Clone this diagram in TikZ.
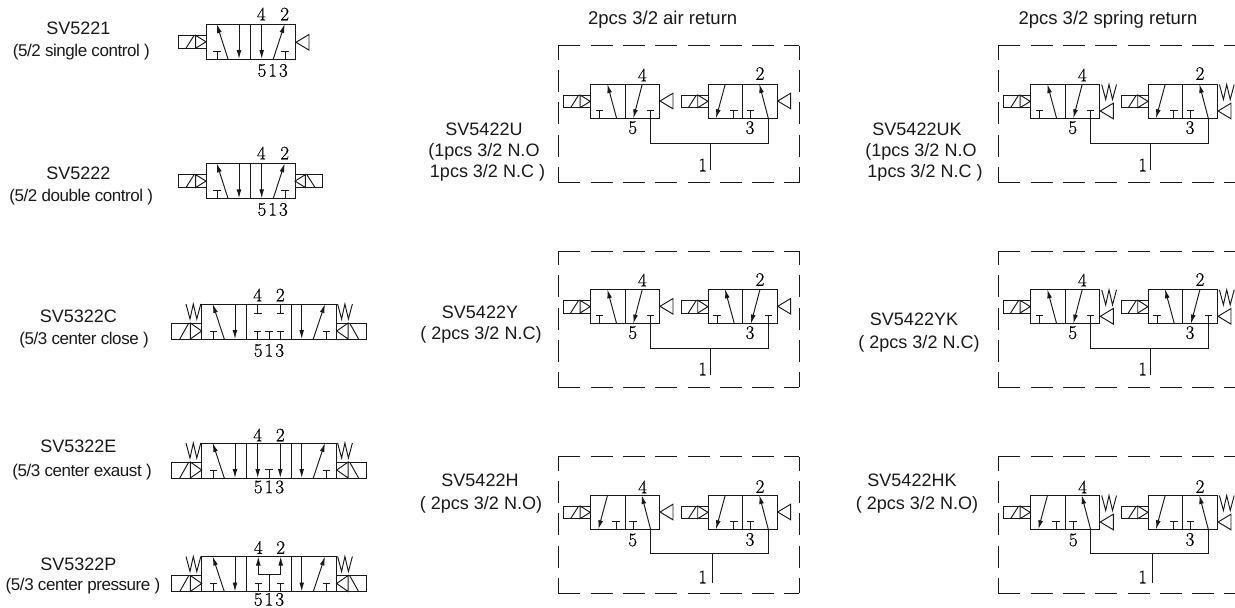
\documentclass[tikz,border=0pt]{standalone}
\usepackage{fontspec}
\usetikzlibrary{arrows.meta}
\setmainfont{Liberation Sans}
\newfontfamily\tightsans[LetterSpace=-2.6]{Liberation Sans}
\newfontfamily\lmdigits[FakeBold=0.7]{Latin Modern Roman}
\newcounter{lab}
\tikzset{
  ln/.style={line width=0.95pt,draw=black!90},
  arw/.style={ln,-{Latex[length=9pt,width=4.8pt]}},
  dashbox/.style={line width=0.9pt,draw=black!90,dash pattern=on 22pt off 10.3pt},
  num/.style={font=\fontsize{19}{19}\lmdigits,inner sep=0pt,text=black},
  title/.style={font=\fontsize{18}{20}\selectfont,inner sep=0pt,anchor=base,text=black!90},
  head/.style={font=\fontsize{18.5}{20}\selectfont,inner sep=0pt,anchor=base,text=black!90},
  sub/.style={font=\fontsize{17}{20}\tightsans,inner sep=0pt,anchor=base,text=black!90},
}
% digit label
\newcommand{\numlab}[3]{\stepcounter{lab}\node[num] (n\thelab) at (#1,#2) {#3};}
% text labels
\newcommand{\tlab}[3]{\stepcounter{lab}\node[title] (t\thelab) at (#1,#2) {#3};}
\newcommand{\hlab}[3]{\stepcounter{lab}\node[head] (h\thelab) at (#1,#2) {#3};}
\newcommand{\slab}[3]{\stepcounter{lab}\node[sub] (s\thelab) at (#1,#2) {#3};}
% dashed frame: x1,y1,x2,y2
\newcommand{\dbox}[4]{%
  \draw[dashbox] (#1,#2) -- (#3,#2);
  \draw[dashbox,dash phase=8pt] (#1,#2) -- (#1,#4);
  \draw[dashbox,dash phase=8pt] (#3,#2) -- (#3,#4);
  \draw[dashbox] (#1,#4) -- (#3,#4);}
% tee: x, bar y, end y
\newcommand{\tee}[3]{\draw[ln] (#1-3.7,#2) -- (#1+3.7,#2) (#1,#2) -- (#1,#3);}
% solenoid drawn to the left of (0,0): y top, h, w
\newcommand{\solbox}[3]{%
  \draw[ln] (-#3,#1) rectangle (0,#1+#2);
  \draw[ln] (-.38*#3,#1) -- (0,#1+.5*#2) -- (-.38*#3,#1+#2) -- cycle;
  \draw[ln] (-.73*#3,#1+#2) -- (-.43*#3,#1);}
% spring zigzag: x left, y top
\newcommand{\springW}[2]{\draw[ln] (#1,#2) -- (#1+4,#2+15) -- (#1+7.3,#2) -- (#1+10.8,#2+15) -- (#1+14.8,#2);}
% triangle: apex x, apex y
\newcommand{\tri}[2]{\draw[ln] (#1,#2) -- (#1+13,#2-7.8) -- (#1+13,#2+7.8) -- cycle;}
% 5/2 valve at top y
\newcommand{\fivetwo}[1]{%
  \begin{scope}[shift={(0,#1)}]
    \draw[ln] (206,0) rectangle (295,35);
    \draw[ln] (250.7,0) -- (250.7,35);
    \draw[arw] (228,35) -- (216.7,0);
    \draw[arw] (273.3,35) -- (284.7,0);
    \draw[arw] (239,0) -- (239,35);
    \draw[arw] (261.7,0) -- (261.7,35);
    \tee{217}{27.5}{35}
    \tee{285}{27.5}{35}
    \begin{scope}[shift={(206,0)}]\solbox{11.3}{13}{27.5}\end{scope}
  \end{scope}}
% 5/3 valve frame at top y
\newcommand{\fivethree}[1]{%
  \draw[ln] (201.7,0) rectangle (336.7,35);
  \draw[ln] (246.7,0) -- (246.7,35) (291.7,0) -- (291.7,35);
  \draw[arw] (224.3,35) -- (212.7,0);
  \draw[arw] (313.3,35) -- (325,0);
  \draw[arw] (235,0) -- (235,35);
  \draw[arw] (301.7,0) -- (301.7,35);
  \tee{213.7}{27}{35}
  \tee{326.3}{27}{35}
  \springW{186}{0}
  \springW{337.6}{0}
  \begin{scope}[shift={(201.7,0)}]\solbox{19}{16}{30}\end{scope}
  \begin{scope}[shift={(336.7,0)},xscale=-1]\solbox{19}{16}{30}\end{scope}}
% two-position half cells, local to a valve body 69 x 34.3
\newcommand{\cellA}{\draw[arw] (26.3,34.3) -- (17,0); \tee{9}{26}{34.3}}
\newcommand{\cellB}{\draw[arw] (17.3,0) -- (8,34.3); \tee{25.8}{26}{34.3}}
\newcommand{\cellC}{\draw[arw] (52,0) -- (43,34.3); \tee{60.4}{26}{34.3}}
\newcommand{\cellD}{\draw[arw] (60.3,34.3) -- (51.3,0); \tee{42.7}{26}{34.3}}
\newcommand{\airEnd}{\tri{69.7}{17}}
\newcommand{\springEnd}{\tri{70}{27}\springW{71.4}{.5}}
% one 3/2 valve: x, top, code, end
\newcommand{\pvalve}[4]{%
  \begin{scope}[shift={(#1,#2)}]
    \draw[ln] (0,0) rectangle (69,34.3);
    \draw[ln] (34.7,0) -- (34.7,34.3);
    #3
    #4
    \begin{scope}\solbox{11}{12.7}{27}\end{scope}
  \end{scope}}
% a row: dx, top, pipe y, stem x, stem end, left code, right code, end
\newcommand{\pairrow}[8]{%
  \begin{scope}[shift={(#1,0)}]
    \pvalve{590.3}{#2}{#6}{#8}
    \pvalve{708}{#2}{#7}{#8}
    \draw[ln] (650.7,#2+34.3) |- (768.3,#3) -- (768.3,#2+34.3);
    \draw[ln] (#4,#3) -- (#4,#5);
  \end{scope}}
\begin{document}
\begin{tikzpicture}[x=1pt,y=-1pt]
\clip (0,0) rectangle (1235,608);
% column one: 5/2
\fivetwo{24}
\begin{scope}\tri{296}{42.3}\end{scope}
\numlab{261.3}{14}{4}\numlab{284.7}{14}{2}
\numlab{272.7}{70.5}{5\kern2pt 1\kern2pt 3}
\fivetwo{163.3}
\begin{scope}[shift={(295,163.3)},xscale=-1]\solbox{11.3}{13}{27.5}\end{scope}
\numlab{261.3}{153}{4}\numlab{284.7}{153}{2}
\numlab{272.7}{209.5}{5\kern2pt 1\kern2pt 3}
% 5/3 centre close
\begin{scope}[shift={(0,304)}]
  \fivethree{0}
  \draw[ln] (257.7,0) -- (257.7,9.3) (253.9,9.3) -- (261.5,9.3);
  \draw[ln] (280.3,0) -- (280.3,9.3) (276.5,9.3) -- (284.1,9.3);
  \tee{257.7}{27}{35}\tee{269}{27}{35}\tee{280.3}{27}{35}
\end{scope}
\numlab{257.7}{295}{4}\numlab{280.3}{295}{2}
\numlab{269}{350.5}{5\kern2pt 1\kern2pt 3}
% 5/3 centre exhaust
\begin{scope}[shift={(0,443)}]
  \fivethree{0}
  \draw[arw] (257.7,0) -- (257.7,35);
  \draw[arw] (280.3,0) -- (280.3,35);
  \tee{269}{26}{35}
\end{scope}
\numlab{257.7}{435}{4}\numlab{280.3}{435}{2}
\numlab{269}{487}{5\kern2pt 1\kern2pt 3}
% 5/3 centre pressure
\begin{scope}[shift={(0,556.5)}]
  \fivethree{0}
  \draw[arw] (258.3,17.5) -- (258.3,0);
  \draw[arw] (280.7,17.5) -- (280.7,0);
  \draw[ln] (258.3,17.5) -- (280.7,17.5);
  \draw[ln] (269.5,17.5) -- (269.5,35);
  \tee{258.3}{27}{35}\tee{280.7}{27}{35}
\end{scope}
\numlab{258.3}{547.5}{4}\numlab{280.7}{547.5}{2}
\numlab{269}{599.5}{5\kern2pt 1\kern2pt 3}
% column one labels
\tlab{78.3}{34}{SV5221}\slab{81.3}{56.7}{(5/2 single control )}
\tlab{78.3}{179}{SV5222}\slab{81.3}{201}{(5/2 double control )}
\tlab{78.3}{322}{SV5322C}\slab{84}{344}{(5/3 center close )}
\tlab{78.3}{452}{SV5322E}\slab{82}{476}{(5/3 center exaust )}
\tlab{78.3}{570}{SV5322P}\slab{83}{590}{(5/3 center pressure )}
% dashed boxes
\dbox{558.3}{45.7}{799.3}{182.7}
\dbox{558.3}{251}{799.3}{387.3}
\dbox{558.3}{456.7}{799.3}{593.3}
\dbox{998.3}{45.7}{1239.3}{182.7}
\dbox{998.3}{251}{1239.3}{387.3}
\dbox{998.3}{456.7}{1239.3}{593.3}
% paired valves, air return
\pairrow{0}{84}{143.7}{710}{170}{\cellA\cellC}{\cellB\cellD}{\airEnd}
\pairrow{0}{289.3}{348.3}{710}{375}{\cellA\cellC}{\cellA\cellC}{\airEnd}
\pairrow{0}{495}{553.7}{712.3}{583.3}{\cellB\cellD}{\cellB\cellD}{\airEnd}
% paired valves, spring return
\pairrow{440}{84}{143.7}{710}{170}{\cellA\cellC}{\cellB\cellD}{\springEnd}
\pairrow{440}{289.3}{348.3}{710}{375}{\cellA\cellC}{\cellA\cellC}{\springEnd}
\pairrow{440}{495}{553.7}{712.3}{583.3}{\cellB\cellD}{\cellB\cellD}{\springEnd}
% port numbers
\numlab{642.3}{75}{4}\numlab{760}{73.5}{2}\numlab{632.7}{127.7}{5}\numlab{750}{127.7}{3}\numlab{702.7}{165}{1}
\numlab{642.3}{280}{4}\numlab{760}{279.5}{2}\numlab{632.7}{332.7}{5}\numlab{750}{332.7}{3}\numlab{702.7}{369}{1}
\numlab{642.7}{487}{4}\numlab{760}{486.5}{2}\numlab{632.7}{540}{5}\numlab{750}{539.5}{3}\numlab{702.7}{577}{1}
\numlab{1082.3}{75}{4}\numlab{1200}{73.5}{2}\numlab{1072.7}{127.7}{5}\numlab{1190}{127.7}{3}\numlab{1142.7}{165}{1}
\numlab{1082.3}{280}{4}\numlab{1200}{279.5}{2}\numlab{1072.7}{332.7}{5}\numlab{1190}{332.7}{3}\numlab{1142.7}{369}{1}
\numlab{1082.7}{487}{4}\numlab{1200}{486.5}{2}\numlab{1073.3}{540}{5}\numlab{1190}{539.5}{3}\numlab{1142.7}{577}{1}
% column labels
\hlab{662.7}{24}{2pcs 3/2 air return}
\hlab{1108}{24}{2pcs 3/2 spring return}
\tlab{484}{135}{SV5422U}\tlab{484}{156}{(1pcs 3/2 N.O}\tlab{487.5}{177}{1pcs 3/2 N.C )}
\tlab{480}{318}{SV5422Y}\tlab{481}{339}{( 2pcs 3/2 N.C)}
\tlab{480}{486}{SV5422H}\tlab{481}{509}{( 2pcs 3/2 N.O)}
\tlab{917}{135}{SV5422UK}\tlab{921}{156}{(1pcs 3/2 N.O}\tlab{925}{177}{1pcs 3/2 N.C )}
\tlab{914}{325}{SV5422YK}\tlab{919}{348}{( 2pcs 3/2 N.C)}
\tlab{912}{486}{SV5422HK}\tlab{917}{509}{( 2pcs 3/2 N.O)}
\end{tikzpicture}
\end{document}
